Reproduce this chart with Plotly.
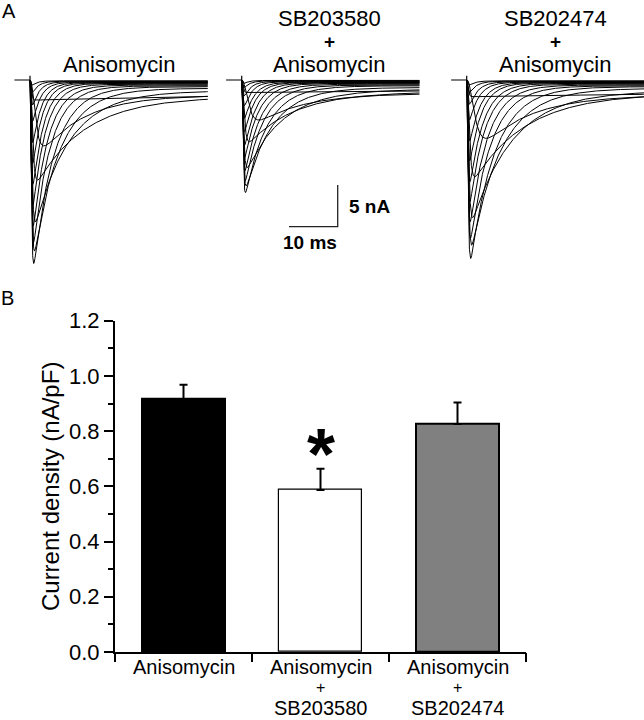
import numpy as np
import plotly.graph_objects as go

W, H = 644, 720
FONT = "Liberation Sans, Arial, sans-serif"

# ---------------- Panel A data ----------------
# peak amplitude (nA), time to peak (ms), decay time constant (ms), sustained current (nA)
aniso_amp = [0.6, 1.5, 3.0, 5.0, 7.5, 10.0, 12.5, 15.0, 17.5, 19.5, 22.0, 20.5, 17.0, 12.0, 7.9, 2.4]
aniso_tpk = [0.45, 0.45, 0.5, 0.5, 0.55, 0.55, 0.6, 0.6, 0.65, 0.7, 0.75, 0.9, 1.1, 1.5, 2.7, 1.2]
aniso_tau = [1.0, 1.2, 1.4, 1.6, 1.8, 2.0, 2.3, 2.6, 3.0, 3.5, 4.2, 5.2, 7.0, 10.0, 9.0, 80.0]
aniso_sus = [0.1, 0.15, 0.2, 0.25, 0.3, 0.35, 0.4, 0.5, 0.6, 0.7, 0.8, 1.0, 1.3, 2.0, 1.8, 1.2]

sb3580_amp = [0.4, 0.9, 1.9, 3.1, 4.6, 6.2, 7.8, 9.3, 10.9, 12.1, 13.5, 12.7, 10.5, 7.4, 4.8, 1.5]
sb3580_tpk = [0.45, 0.45, 0.5, 0.5, 0.55, 0.55, 0.6, 0.6, 0.65, 0.7, 0.75, 0.9, 1.1, 1.5, 3.2, 1.2]
sb3580_tau = [1.0, 1.2, 1.4, 1.6, 1.9, 2.1, 2.4, 2.8, 3.2, 3.7, 4.4, 5.5, 7.5, 9.5, 9.5, 80.0]
sb3580_sus = [0.05, 0.1, 0.15, 0.2, 0.25, 0.3, 0.35, 0.4, 0.5, 0.6, 0.7, 0.9, 1.1, 1.4, 1.6, 1.0]

sb2474_amp = [0.6, 1.5, 2.9, 4.8, 7.3, 9.7, 12.2, 14.6, 17.0, 19.0, 21.4, 19.8, 16.5, 11.6, 7.0, 2.0]
sb2474_tpk = [0.5, 0.5, 0.55, 0.55, 0.6, 0.6, 0.65, 0.65, 0.7, 0.75, 0.8, 1.0, 1.2, 1.6, 3.7, 1.3]
sb2474_tau = [1.2, 1.4, 1.7, 1.9, 2.2, 2.4, 2.8, 3.1, 3.6, 4.2, 5.0, 6.2, 8.4, 10.8, 10.0, 80.0]
sb2474_sus = [0.1, 0.15, 0.2, 0.25, 0.3, 0.35, 0.4, 0.5, 0.6, 0.7, 0.8, 1.0, 1.3, 1.6, 1.8, 1.2]

trace_titles = [["Anisomycin"], ["SB203580", "+", "Anisomycin"], ["SB202474", "+", "Anisomycin"]]
sweep_ms = 36.5        # pulse length shown
hold_ms = 3.2          # holding segment before the pulse
artifact_nA = 0.5      # capacitive blip
scale_ms, scale_nA = 10, 5

# ---------------- Panel B data ----------------
categories = ["Anisomycin", "Anisomycin", "Anisomycin"]
cat_sub = ["", "SB203580", "SB202474"]
density = [0.916, 0.587, 0.826]
density_sem = [0.052, 0.077, 0.078]
bar_colors = ["#000000", "#ffffff", "#808080"]
bar_lines = [2, 1.2, 2]

# ---------------- helpers ----------------
def px(x):
    return x / W

def py(y):
    return 1 - y / H

PX_PER_MS = 4.87
PX_PER_NA = 8.34
BASE_Y = 80
starts_px = [30, 241.7, 466.7]

def rise_const(tp, tau):
    lo, hi = 1e-4, 50 * tp
    for _ in range(80):
        mid = 0.5 * (lo + hi)
        e = np.exp(-tp / mid)
        g = 3 * tau * e / (mid * (1 - e)) - 1
        if g < 0:
            lo = mid
        else:
            hi = mid
    return 0.5 * (lo + hi)

t = np.concatenate([np.linspace(0, 4, 240), np.linspace(4, sweep_ms, 360)[1:]])

def current(A, tp, tau, P):
    tr = rise_const(tp, tau)
    m3 = (1 - np.exp(-t / tr)) ** 3
    s = m3 * np.exp(-t / tau)
    s = s / s.max()
    tot = (A - P * m3[np.argmax(s)]) * s + P * m3
    tot = tot * A / tot.max()
    return -tot

fig = go.Figure()

families = [
    (aniso_amp, aniso_tpk, aniso_tau, aniso_sus),
    (sb3580_amp, sb3580_tpk, sb3580_tau, sb3580_sus),
    (sb2474_amp, sb2474_tpk, sb2474_tau, sb2474_sus),
]

y_top_px, y_bot_px = 55, 275
yrange_A = [-(y_bot_px - BASE_Y) / PX_PER_NA, (BASE_Y - y_top_px) / PX_PER_NA]

layout_axes = {}
for k, (amps, tpks, taus, suss) in enumerate(families):
    xa = "x" if k == 0 else f"x{k+1}"
    ya = "y" if k == 0 else f"y{k+1}"
    s = starts_px[k]
    d0 = s - 22
    d1 = min(s + 190, W)
    layout_axes[("xaxis" if k == 0 else f"xaxis{k+1}")] = dict(
        domain=[px(d0), px(d1)], range=[(d0 - s) / PX_PER_MS, (d1 - s) / PX_PER_MS],
        visible=False, anchor=ya, automargin=False)
    layout_axes[("yaxis" if k == 0 else f"yaxis{k+1}")] = dict(
        domain=[py(y_bot_px), py(y_top_px)], range=yrange_A, visible=False, anchor=xa,
        automargin=False)
    fig.add_trace(go.Scatter(x=[-hold_ms, 0, 0, 0], y=[0, 0, artifact_nA, 0], mode="lines",
                             line=dict(color="black", width=1.2), xaxis=xa, yaxis=ya,
                             showlegend=False, hoverinfo="skip"))
    for A, tp, tau, P in zip(amps, tpks, taus, suss):
        fig.add_trace(go.Scatter(x=t, y=current(A, tp, tau, P), mode="lines",
                                 line=dict(color="black", width=1), xaxis=xa, yaxis=ya,
                                 showlegend=False, hoverinfo="skip"))

# scale bar on the middle family's axes
sb_x0 = (289 - starts_px[1]) / PX_PER_MS
sb_y0 = -(226.7 - BASE_Y) / PX_PER_NA
fig.add_trace(go.Scatter(x=[sb_x0, sb_x0 + scale_ms, sb_x0 + scale_ms],
                         y=[sb_y0, sb_y0, sb_y0 + scale_nA], mode="lines",
                         line=dict(color="#222222", width=1.3), xaxis="x2", yaxis="y2",
                         showlegend=False, hoverinfo="skip"))

# ---------------- Panel B ----------------
fig.add_trace(go.Bar(
    x=[0, 1, 2], y=density, width=0.6,
    marker=dict(color=bar_colors, line=dict(color="black", width=bar_lines)),
    error_y=dict(type="data", symmetric=False, array=density_sem, arrayminus=[0, 0, 0],
                 color="black", thickness=2, width=4),
    xaxis="x4", yaxis="y4", showlegend=False, hoverinfo="skip"))

bx0, bx1 = 115, 526
by0, by1 = 652, 320.7
layout_axes["xaxis4"] = dict(domain=[px(bx0), px(bx1)], range=[-0.5, 2.5], anchor="y4",
                             showline=True, linecolor="black", linewidth=2, ticks="",
                             showticklabels=False, showgrid=False, zeroline=False,
                             automargin=False)
layout_axes["xaxis5"] = dict(domain=[px(bx0), px(bx1)], range=[-0.5, 2.5], anchor="y4",
                             overlaying="x4", tickvals=[-0.5, 0.5, 1.5, 2.5], ticks="outside",
                             ticklen=9, tickwidth=2, tickcolor="black", showticklabels=False,
                             showgrid=False, zeroline=False, showline=False, automargin=False)
layout_axes["yaxis4"] = dict(domain=[py(by0), py(by1)], range=[0, 1.2], anchor="x4",
                             showline=True, linecolor="black", linewidth=2,
                             ticks="outside", ticklen=9, tickwidth=2, tickcolor="black",
                             dtick=0.2, tick0=0, tickformat=".1f",
                             minor=dict(ticks="outside", ticklen=5, tickwidth=2, dtick=0.1,
                                        tickcolor="black"),
                             showgrid=False, zeroline=False, automargin=False,
                             tickfont=dict(family=FONT, size=22, color="black"),
                             title=dict(text="Current density (nA/pF)", standoff=3,
                                        font=dict(family=FONT, size=24, color="black")))
# dummy trace for overlay axis
fig.add_trace(go.Scatter(x=[None], y=[None], xaxis="x5", yaxis="y4", showlegend=False))

annotations = []
def label(text, x, y, size, bold=False, xref="paper", xanchor="center"):
    annotations.append(dict(text=f"<b>{text}</b>" if bold else text, x=x, y=y, xref=xref,
                            yref="paper", xanchor=xanchor, yanchor="middle", showarrow=False,
                            font=dict(family=FONT, size=size, color="black")))

label("A", px(9), py(11), 20)
label("B", px(7), py(298), 20)

title_cx = [119, 329, 555]
title_rows = [18.5, 41.5, 64.5]
for k, lines in enumerate(trace_titles):
    if len(lines) == 1:
        label(lines[0], px(title_cx[k]), py(title_rows[2]), 22)
    else:
        for ln, yy in zip(lines, title_rows):
            if ln == "+":
                label(ln, px(title_cx[k]), py(yy), 19, bold=True)
            else:
                label(ln, px(title_cx[k]), py(yy), 22)

label("5 nA", px(347), py(207), 19, bold=True, xanchor="left")
label("10 ms", px(310), py(242), 19, bold=True)

cat_rows = [666.5, 687.3, 708]
for i in range(3):
    label(categories[i], i, py(cat_rows[0]), 20, xref="x4")
    if cat_sub[i]:
        label("+", i, py(cat_rows[1]), 16, xref="x4")
        label(cat_sub[i], i, py(cat_rows[2]), 20, xref="x4")

annotations.append(dict(text="<b>*</b>", x=1, y=py(454), xref="x4", yref="paper",
                        xanchor="center", yanchor="middle", showarrow=False,
                        font=dict(family=FONT, size=72, color="black")))

fig.update_layout(
    width=W, height=H, margin=dict(l=0, r=0, t=0, b=0, autoexpand=False),
    paper_bgcolor="white", plot_bgcolor="rgba(0,0,0,0)",
    annotations=annotations, showlegend=False, bargap=0,
    **layout_axes)

fig.write_html("out.html", config={"displayModeBar": False},
               post_script="document.body.style.margin='0';document.body.style.overflow='hidden';")
